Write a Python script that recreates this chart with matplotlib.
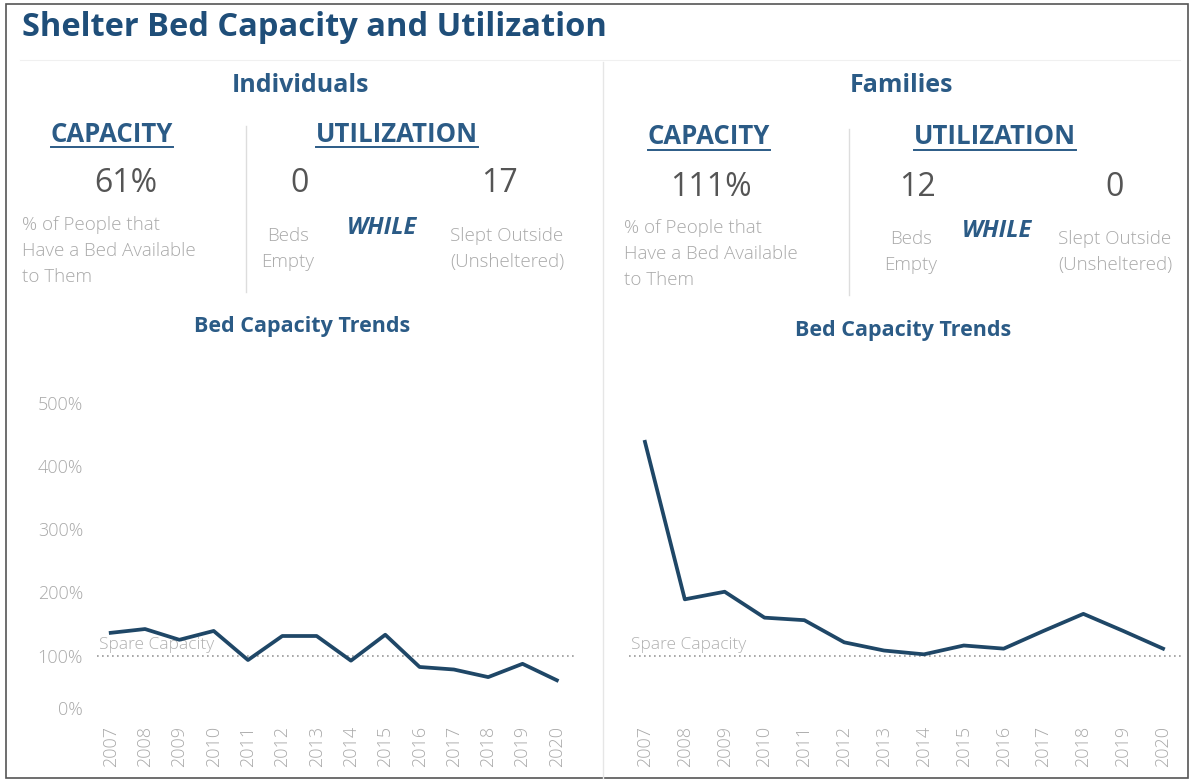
import matplotlib
matplotlib.use("Agg")
import matplotlib.pyplot as plt
from matplotlib.lines import Line2D
from matplotlib.patches import Rectangle

plt.rcParams["font.family"] = ["Open Sans", "DejaVu Sans"]

# ── Data ─────────────────────────────────────────────────────────────────────
years = [2007, 2008, 2009, 2010, 2011, 2012, 2013, 2014, 2015, 2016, 2017, 2018, 2019, 2020]
indiv_capacity = [136, 142, 125, 139, 93, 131, 131, 92, 133, 82, 78, 66, 87, 61]
family_capacity = [438, 189, 201, 160, 156, 121, 108, 102, 116, 111, 139, 166, 139, 111]
y_ticks = [0, 100, 200, 300, 400, 500]
spare_level = 100

panels = ["Individuals", "Families"]
capacity_pct = ["61%", "111%"]
beds_empty = ["0", "12"]
slept_outside = ["17", "0"]

# ── Styling / layout (pixel positions of the dashboard tiles) ────────────────
W, H = 1191, 780
NAVY = "#1f4e79"
HEAD = "#2b5b86"
LINE = "#1f4767"
GREY_TXT = "#a9a9a9"
NUM_TXT = "#555555"

# per panel: x centres of the text blocks
layout = [
    dict(name=300, cap=112, util=397, pct=126, beds_n=300, out_n=499,
         desc=22, beds=288, while_=382, out=507, div=246, trend=302, dy=0),
    dict(name=902, cap=709, util=995, pct=711, beds_n=917, out_n=1115,
         desc=624, beds=911, while_=997, out=1115, div=849, trend=903, dy=3),
]

fig = plt.figure(figsize=(W / 100, H / 100), dpi=100)


def fx(x):
    return x / W


def fy(y):
    return 1 - y / H


def ptext(x, y, s, **kw):
    return fig.text(fx(x), fy(y), s, **kw)


def vline(x, y0, y1, color="#dddddd", lw=1.0):
    fig.add_artist(Line2D([fx(x), fx(x)], [fy(y0), fy(y1)], color=color, lw=lw,
                          transform=fig.transFigure))


# outer frame
fig.add_artist(Rectangle((fx(6), fy(778)), fx(1188) - fx(6), fy(4) - fy(778),
                         fill=False, ec="#555555", lw=1.2, transform=fig.transFigure))

ptext(22, 27, "Shelter Bed Capacity and Utilization", fontsize=23.5, fontweight="bold",
      color=NAVY, ha="left", va="center")

# main divider and faint header rule
vline(603, 62, 778, color="#e6e6e6")
fig.add_artist(Line2D([fx(20), fx(1180)], [fy(60), fy(60)], color="#f0f0f0", lw=0.8,
                      transform=fig.transFigure))

underlined = []
for i, name in enumerate(panels):
    L = layout[i]
    dy = L["dy"]
    ptext(L["name"], 85, name, fontsize=18, fontweight="bold", color=HEAD,
          ha="center", va="center")
    underlined.append(ptext(L["cap"], 134 + dy, "CAPACITY", fontsize=18.5, fontweight="bold",
                            color=HEAD, ha="center", va="center"))
    underlined.append(ptext(L["util"], 134 + dy, "UTILIZATION", fontsize=18.5, fontweight="bold",
                            color=HEAD, ha="center", va="center"))
    vline(L["div"], 126 + dy, 292 + dy)

    ptext(L["pct"], 184 + dy, capacity_pct[i], fontsize=23, color=NUM_TXT, ha="center", va="center")
    ptext(L["beds_n"], 184 + dy, beds_empty[i], fontsize=23, color=NUM_TXT, ha="center", va="center")
    ptext(L["out_n"], 184 + dy, slept_outside[i], fontsize=23, color=NUM_TXT, ha="center", va="center")

    ptext(L["desc"], 251 + dy, "% of People that\nHave a Bed Available\nto Them", fontsize=13.5,
          color=GREY_TXT, ha="left", va="center", linespacing=1.6, fontweight="light")
    ptext(L["beds"], 249 + dy, "Beds\nEmpty", fontsize=13.5, color=GREY_TXT,
          ha="center", va="center", linespacing=1.6, fontweight="light")
    ptext(L["while_"], 228 + dy, "WHILE", fontsize=17, fontweight="bold", fontstyle="italic",
          color=HEAD, ha="center", va="center")
    ptext(L["out"], 249 + dy, "Slept Outside\n(Unsheltered)", fontsize=13.5, color=GREY_TXT,
          ha="center", va="center", linespacing=1.6, fontweight="light")

    ptext(L["trend"], 326 + dy * 1.6, "Bed Capacity Trends", fontsize=15.5, fontweight="bold",
          color=HEAD, ha="center", va="center")

# underline the section headers using their rendered extents
fig.canvas.draw()
renderer = fig.canvas.get_renderer()
for t in underlined:
    bb = t.get_window_extent(renderer)
    y_ul = bb.y0 + 1
    fig.add_artist(Line2D([bb.x0 / W, bb.x1 / W], [y_ul / H, y_ul / H], color=HEAD, lw=1.4,
                          transform=fig.transFigure))

# ── Trend charts ─────────────────────────────────────────────────────────────
ax_boxes = [(97, 574), (629, 1183)]      # left/right pixel edges of each plot
top_px, bot_px = 390, 722
series = [indiv_capacity, family_capacity]

for i, (x0, x1) in enumerate(ax_boxes):
    ax = fig.add_axes([fx(x0), fy(bot_px), fx(x1) - fx(x0), fy(top_px) - fy(bot_px)])
    ax.plot(years, series[i], color=LINE, lw=2.7, solid_joinstyle="round", zorder=3)
    ax.axhline(spare_level, color="#9a9a9a", lw=1.2, ls=(0, (1, 2)), zorder=1)
    ax.text(years[0] - 0.35, spare_level + 4, "Spare Capacity", fontsize=12.5,
            color="#b0b0b0", ha="left", va="bottom", zorder=2, fontweight="light")
    ax.set_xlim(years[0] - 0.4, years[-1] + 0.5)
    ax.set_ylim(-5, 520)
    ax.set_xticks(years)
    ax.set_xticklabels([str(y) for y in years], rotation=90, fontsize=13, color=GREY_TXT,
                       fontweight="light")
    for s in ax.spines.values():
        s.set_visible(False)
    ax.tick_params(length=0, pad=3)
    if i == 0:
        ax.set_yticks(y_ticks)
        labels = ax.set_yticklabels([f"{v}%" for v in y_ticks], fontsize=13, color=GREY_TXT,
                                    fontweight="light")
        labels[0].set_va("bottom")
        ax.tick_params(axis="y", pad=10)
    else:
        ax.set_yticks([])
    ax.set_facecolor("none")

fig.savefig("out.png", dpi=100)
